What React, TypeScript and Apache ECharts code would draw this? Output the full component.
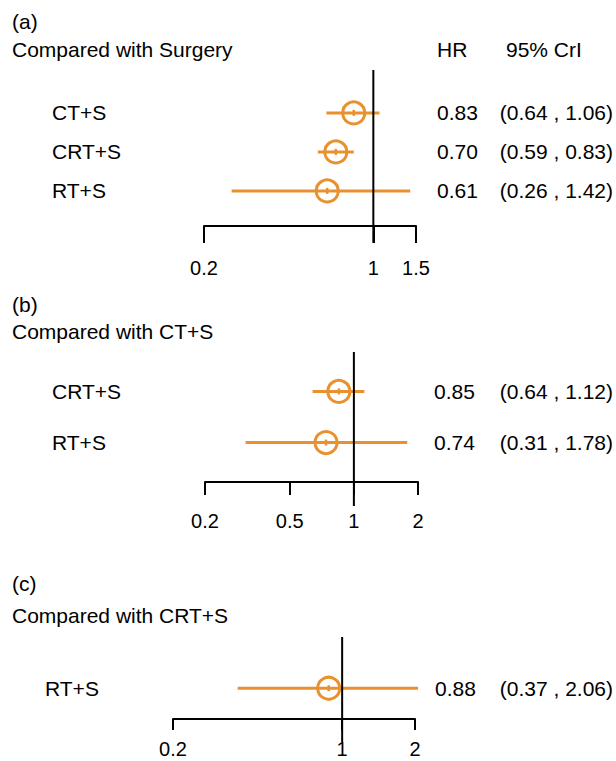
import React, { useEffect, useRef } from "react";
import * as echarts from "echarts";

// ---- Data ----
// Panel (a): compared with Surgery
const rowsA = ["CT+S", "CRT+S", "RT+S"];
const hrA = [0.83, 0.7, 0.61];
const loA = [0.64, 0.59, 0.26];
const hiA = [1.06, 0.83, 1.42];
const markerA = [0.83, 0.7, 0.645]; // plotted point positions
const ticksA = [0.2, 1, 1.5];

// Panel (b): compared with CT+S
const rowsB = ["CRT+S", "RT+S"];
const hrB = [0.85, 0.74];
const loB = [0.64, 0.31];
const hiB = [1.12, 1.78];
const markerB = [0.85, 0.74];
const ticksB = [0.2, 0.5, 1, 2];

// Panel (c): compared with CRT+S
const rowsC = ["RT+S"];
const hrC = [0.88];
const loC = [0.37];
const hiC = [2.06];
const markerC = [0.88];
const ticksC = [0.2, 1, 2];

const titles = ["(a)", "(b)", "(c)"];
const subtitles = [
  "Compared with Surgery",
  "Compared with CT+S",
  "Compared with CRT+S",
];
const headerHR = "HR";
const headerCI = "95% CrI";

const ORANGE = "#E8912E";
const FONT = "'Liberation Sans', Arial, Helvetica, sans-serif";

const fmt2 = (v: number) => v.toFixed(2);

type Panel = {
  rows: string[];
  hr: number[];
  lo: number[];
  hi: number[];
  marker: number[];
  ticks: number[];
  grid: { left: number; top: number; width: number; height: number };
  yMin: number;
  yMax: number;
  leftMargin: number;
  hrMargin: number;
  ciMargin: number;
  tickLen: number;
  labelMargin: number;
  refExt: number;
};

const panels: Panel[] = [
  {
    rows: rowsA, hr: hrA, lo: loA, hi: hiA, marker: markerA, ticks: ticksA,
    grid: { left: 204, top: 70, width: 212, height: 156 },
    yMin: -0.1, yMax: 3.9,
    leftMargin: 152, hrMargin: 21, ciMargin: 197,
    tickLen: 17, labelMargin: 32, refExt: 17,
  },
  {
    rows: rowsB, hr: hrB, lo: loB, hi: hiB, marker: markerB, ticks: ticksB,
    grid: { left: 205, top: 352, width: 213, height: 130 },
    yMin: 0.23, yMax: 2.77,
    leftMargin: 153, hrMargin: 16, ciMargin: 195,
    tickLen: 13, labelMargin: 29, refExt: 24,
  },
  {
    rows: rowsC, hr: hrC, lo: loC, hi: hiC, marker: markerC, ticks: ticksC,
    grid: { left: 173, top: 637, width: 242, height: 82 },
    yMin: 0, yMax: 1.6,
    leftMargin: 128, hrMargin: 20, ciMargin: 198,
    tickLen: 11, labelMargin: 20, refExt: 23,
  },
];

function buildOption() {
  const grid: any[] = [];
  const xAxis: any[] = [];
  const yAxis: any[] = [];
  const series: any[] = [];

  panels.forEach((p, i) => {
    grid.push({ ...p.grid, containLabel: false });
    xAxis.push({
      type: "value",
      gridIndex: i,
      min: Math.log(p.ticks[0]),
      max: Math.log(p.ticks[p.ticks.length - 1]),
      axisLine: { show: true, onZero: false, lineStyle: { color: "#000", width: 2 } },
      axisTick: {
        show: true,
        length: p.tickLen,
        customValues: p.ticks.map(Math.log),
        lineStyle: { color: "#000", width: 2 },
      },
      axisLabel: {
        show: true,
        customValues: p.ticks.map(Math.log),
        formatter: (v: number) => String(+Math.exp(v).toFixed(2)),
        fontSize: 20,
        fontFamily: FONT,
        color: "#000",
        margin: p.labelMargin,
      },
      splitLine: { show: false },
    });
    const baseY = yAxis.length;
    const rowVals = p.rows.map((_, k) => k + 1);
    const commonY = {
      type: "value",
      gridIndex: i,
      min: p.yMin,
      max: p.yMax,
      inverse: true,
      axisLine: { show: false },
      axisTick: { show: false },
      splitLine: { show: false },
    };
    // Left row labels
    yAxis.push({
      ...commonY,
      position: "left",
      axisLabel: {
        customValues: rowVals,
        formatter: (v: number) => p.rows[Math.round(v) - 1] ?? "",
        align: "left",
        margin: p.leftMargin,
        fontSize: 21,
        fontFamily: FONT,
        color: "#000",
      },
    });
    // HR labels
    yAxis.push({
      ...commonY,
      position: "right",
      axisLabel: {
        customValues: rowVals,
        formatter: (v: number) => {
          const k = Math.round(v) - 1;
          return k >= 0 && k < p.hr.length ? fmt2(p.hr[k]) : "";
        },
        align: "left",
        margin: p.hrMargin,
        fontSize: 21,
        fontFamily: FONT,
        color: "#000",
      },
    });
    // CrI labels
    yAxis.push({
      ...commonY,
      position: "right",
      axisLabel: {
        customValues: rowVals,
        formatter: (v: number) => {
          const k = Math.round(v) - 1;
          return k >= 0 && k < p.lo.length
            ? "(" + fmt2(p.lo[k]) + " , " + fmt2(p.hi[k]) + ")"
            : "";
        },
        align: "right",
        margin: p.ciMargin,
        fontSize: 21,
        fontFamily: FONT,
        color: "#000",
      },
    });

    // Estimates with credible intervals
    series.push({
      type: "custom",
      xAxisIndex: i,
      yAxisIndex: baseY,
      z: 2,
      clip: false,
      data: p.rows.map((_, k) => [
        Math.log(p.lo[k]),
        Math.log(p.hi[k]),
        Math.log(p.marker[k]),
        k + 1,
      ]),
      renderItem: (params: any, api: any) => {
        const lo = api.value(0);
        const hi = api.value(1);
        const pt = api.value(2);
        const row = api.value(3);
        const a = api.coord([lo, row]);
        const b = api.coord([hi, row]);
        const c = api.coord([pt, row]);
        const st = { stroke: ORANGE, lineWidth: 3, fill: "none" };
        return {
          type: "group",
          children: [
            { type: "line", shape: { x1: a[0], y1: a[1], x2: b[0], y2: b[1] }, style: st },
            { type: "circle", shape: { cx: c[0], cy: c[1], r: 11 }, style: { ...st, fill: null } },
            {
              type: "line",
              shape: { x1: c[0], y1: c[1] - 3, x2: c[0], y2: c[1] + 3 },
              style: { stroke: ORANGE, lineWidth: 2.5 },
            },
          ],
        };
      },
    });
    // Reference line at HR = 1
    series.push({
      type: "custom",
      xAxisIndex: i,
      yAxisIndex: baseY,
      z: 3,
      clip: false,
      data: [[0]],
      renderItem: (params: any, api: any) => {
        const cs = params.coordSys;
        const x = api.coord([api.value(0), p.yMin])[0];
        return {
          type: "line",
          shape: { x1: x, y1: cs.y, x2: x, y2: cs.y + cs.height + p.refExt },
          style: { stroke: "#000", lineWidth: 2 },
        };
      },
    });
  });

  const textStyle = (text: string) => ({
    text,
    fontSize: 21,
    fontFamily: FONT,
    fill: "#000",
    textAlign: "left",
    textVerticalAlign: "middle",
  });

  const graphic: any[] = [
    { type: "text", x: 12, y: 21, style: textStyle(titles[0]) },
    { type: "text", x: 12, y: 49, style: textStyle(subtitles[0]) },
    { type: "text", x: 437, y: 49, style: textStyle(headerHR) },
    { type: "text", x: 506, y: 49, style: textStyle(headerCI) },
    { type: "text", x: 12, y: 304, style: textStyle(titles[1]) },
    { type: "text", x: 12, y: 331, style: textStyle(subtitles[1]) },
    { type: "text", x: 12, y: 583, style: textStyle(titles[2]) },
    { type: "text", x: 12, y: 615, style: textStyle(subtitles[2]) },
  ];

  return {
    animation: false,
    backgroundColor: "#fff",
    grid,
    xAxis,
    yAxis,
    series,
    graphic,
  };
}

export default function App() {
  const ref = useRef<HTMLDivElement>(null);
  useEffect(() => {
    document.body.style.margin = "0";
    if (!ref.current) return;
    const chart = echarts.init(ref.current, undefined, { renderer: "svg" });
    chart.setOption(buildOption() as any);
    return () => chart.dispose();
  }, []);
  return <div ref={ref} style={{ width: 616, height: 761 }} />;
}
